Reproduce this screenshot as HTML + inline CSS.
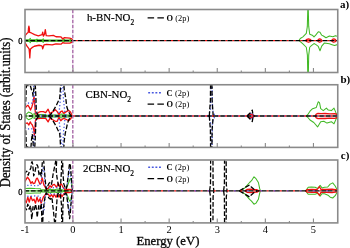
<!DOCTYPE html>
<html><head><meta charset="utf-8"><style>
html,body{margin:0;padding:0;background:#fff;}
body{width:350px;height:248px;overflow:hidden;}
svg{display:block;will-change:transform;}
.s{font-family:"Liberation Serif",serif;fill:#000;}
.b{font-weight:bold;}
.t{stroke:#111;stroke-width:0.3px;}
</style></head><body>
<svg width="350" height="248" viewBox="0 0 350 248">
<rect width="350" height="248" fill="#fff"/>
<clipPath id="clipa"><rect x="25.0" y="9.5" width="312.75" height="63.0"/></clipPath>
<clipPath id="clipb"><rect x="25.0" y="84.75" width="312.75" height="62.650000000000006"/></clipPath>
<clipPath id="clipc"><rect x="25.0" y="160.0" width="312.75" height="62.900000000000006"/></clipPath>
<g clip-path="url(#clipa)"><g transform="translate(0,0.15)"><polyline points="24.00,40.40 25.50,39.60 29.50,39.40 30.20,38.20 30.90,39.50 36.30,39.60 37.00,39.00 37.70,39.60 42.50,39.60 43.20,38.60 43.90,39.60 48.00,39.80 63.50,39.80 64.20,39.00 64.90,39.80 69.70,39.80 70.50,39.00 71.40,40.00 72.50,40.40" fill="none" stroke="#42b926" stroke-width="1.05" stroke-linejoin="round" /><polyline points="299.00,40.40 300.30,38.40 302.90,36.70 306.30,33.30 307.30,26.50 308.05,0.00 308.70,26.00 309.70,34.10 312.30,35.00 314.00,36.70 315.70,35.00 318.30,31.60 320.00,32.00 321.70,35.00 323.40,35.90 326.00,37.60 329.40,35.90 332.90,36.50 335.40,35.50 338.75,36.50" fill="none" stroke="#42b926" stroke-width="1.05" stroke-linejoin="round" /><polyline points="24.00,40.40 25.50,41.20 29.50,41.40 30.20,42.60 30.90,41.30 36.30,41.20 37.00,41.80 37.70,41.20 42.50,41.20 43.20,42.20 43.90,41.20 48.00,41.00 63.50,41.00 64.20,41.80 64.90,41.00 69.70,41.00 70.50,41.80 71.40,40.80 72.50,40.40" fill="none" stroke="#42b926" stroke-width="1.05" stroke-linejoin="round" /><polyline points="299.00,40.40 300.30,41.50 302.90,43.70 306.30,47.10 307.40,55.00 308.05,90.00 308.70,55.00 309.70,47.10 311.40,45.40 314.00,43.40 316.00,44.50 318.30,46.30 320.00,50.60 321.70,46.00 324.30,42.90 329.40,43.70 332.00,44.50 334.60,45.40 338.75,44.00" fill="none" stroke="#42b926" stroke-width="1.05" stroke-linejoin="round" /><polyline points="24.00,40.40 73.50,40.40" fill="none" stroke="#42b926" stroke-width="1.1" stroke-linejoin="round" /><polyline points="24.00,37.00 24.80,36.50 25.50,35.00 27.00,33.20 28.20,32.30 28.50,28.00 28.90,26.00 29.30,28.00 29.60,32.20 31.40,32.80 34.60,34.50 38.30,35.70 42.10,34.50 42.70,32.00 43.40,36.00 44.50,34.00 45.30,29.40 46.20,35.50 49.00,35.70 53.40,35.30 56.00,36.60 61.00,36.80 62.90,38.90 64.20,37.50 69.70,37.90 71.80,38.60 72.80,40.40" fill="none" stroke="#f01010" stroke-width="1.3" stroke-linejoin="round" /><polyline points="305.50,40.40 307.00,39.20 308.50,38.70 310.00,39.20 311.30,40.40" fill="none" stroke="#f01010" stroke-width="1.3" stroke-linejoin="round" /><polyline points="317.50,40.40 318.50,39.20 319.70,38.70 321.00,39.20 322.00,40.40" fill="none" stroke="#f01010" stroke-width="1.3" stroke-linejoin="round" /><polyline points="331.50,40.40 332.50,39.20 333.80,38.70 335.20,39.20 336.20,40.40" fill="none" stroke="#f01010" stroke-width="1.3" stroke-linejoin="round" /><polyline points="24.00,42.00 24.80,42.30 27.00,46.00 29.10,48.80 29.50,53.00 29.80,57.70 30.10,53.00 30.50,48.80 32.00,47.50 34.30,46.10 39.10,45.10 40.90,45.40 42.10,46.00 42.70,48.60 44.00,44.80 46.50,44.20 52.20,44.80 56.00,43.70 61.00,44.00 62.90,42.30 64.20,43.00 69.70,43.00 71.80,42.20 72.80,40.40" fill="none" stroke="#f01010" stroke-width="1.3" stroke-linejoin="round" /><polyline points="305.50,40.40 307.00,41.60 308.50,42.10 310.00,41.60 311.30,40.40" fill="none" stroke="#f01010" stroke-width="1.3" stroke-linejoin="round" /><polyline points="317.50,40.40 318.50,41.60 319.70,42.10 321.00,41.60 322.00,40.40" fill="none" stroke="#f01010" stroke-width="1.3" stroke-linejoin="round" /><polyline points="331.50,40.40 332.50,41.60 333.80,42.10 335.20,41.60 336.20,40.40" fill="none" stroke="#f01010" stroke-width="1.3" stroke-linejoin="round" /><polyline points="72.30,40.40 338.75,40.40" fill="none" stroke="#f01010" stroke-width="1.3" stroke-linejoin="round" stroke-dasharray="2.00 4.80" stroke-dashoffset="3.25"/><polyline points="24.00,40.40 338.75,40.40" fill="none" stroke="#000" stroke-width="1.3" stroke-linejoin="round" stroke-dasharray="4.80 2.00" stroke-dashoffset="0.55"/></g></g>
<g clip-path="url(#clipb)"><g transform="translate(0,0.1)"><polyline points="24.00,115.90 25.80,114.50 28.50,112.00 31.40,113.20 32.50,114.50 34.30,113.50 35.80,115.90" fill="none" stroke="#42b926" stroke-width="1.05" stroke-linejoin="round" /><polyline points="35.80,115.90 38.00,114.60 39.60,114.30 45.70,114.50 47.50,115.90" fill="none" stroke="#42b926" stroke-width="1.05" stroke-linejoin="round" /><polyline points="47.50,115.90 50.00,115.00 60.00,115.00 61.50,114.00 64.00,114.20 65.50,115.00 70.00,115.00 72.50,115.90" fill="none" stroke="#42b926" stroke-width="1.05" stroke-linejoin="round" /><polyline points="306.00,115.90 307.50,114.90 310.00,111.10 312.60,108.60 316.30,107.30 318.20,101.70 319.50,102.50 320.70,108.60 323.30,110.50 326.40,108.00 328.30,110.00 331.40,110.50 334.00,108.00 335.80,112.30 337.00,114.90 338.75,115.90" fill="none" stroke="#42b926" stroke-width="1.05" stroke-linejoin="round" /><polyline points="24.00,115.90 25.80,117.30 28.50,119.60 31.40,118.50 32.50,117.30 34.30,118.30 35.80,115.90" fill="none" stroke="#42b926" stroke-width="1.05" stroke-linejoin="round" /><polyline points="35.80,115.90 38.00,117.20 39.60,117.50 45.70,117.30 47.50,115.90" fill="none" stroke="#42b926" stroke-width="1.05" stroke-linejoin="round" /><polyline points="47.50,115.90 50.00,116.80 60.00,116.80 61.50,117.80 64.00,117.60 65.50,116.80 70.00,116.80 72.50,115.90" fill="none" stroke="#42b926" stroke-width="1.05" stroke-linejoin="round" /><polyline points="306.00,115.90 307.50,116.90 310.00,119.90 313.80,122.40 317.60,126.80 320.70,121.60 323.80,121.20 327.00,123.00 331.40,121.60 334.00,123.70 336.50,118.00 338.75,115.90" fill="none" stroke="#42b926" stroke-width="1.05" stroke-linejoin="round" /><polyline points="24.00,115.90 73.50,115.90" fill="none" stroke="#42b926" stroke-width="1.1" stroke-linejoin="round" /><polyline points="24.00,108.50 24.80,108.30 25.50,107.60 26.50,106.20 28.00,105.20 29.50,107.60 30.50,110.00 31.80,106.90 33.00,102.80 33.60,99.00 34.00,96.50 34.40,99.00 35.00,108.30 35.40,113.00 36.00,114.10 37.50,113.50 39.00,112.00 40.80,111.50 43.30,111.50 45.70,112.50 48.10,109.10 49.90,113.30 52.30,112.10 55.40,109.70 57.20,111.50 59.00,114.50 60.80,111.50 62.00,110.90 63.80,113.30 66.30,111.50 68.70,110.30 70.50,111.80 72.30,115.90" fill="none" stroke="#f01010" stroke-width="1.3" stroke-linejoin="round" /><polyline points="247.00,115.90 249.00,114.50 251.00,114.00 253.00,114.80 255.00,115.90" fill="none" stroke="#f01010" stroke-width="1.3" stroke-linejoin="round" /><polyline points="315.00,115.90 316.30,114.00 318.00,113.30 321.00,113.60 325.00,113.40 330.00,113.80 335.00,113.50 337.00,114.50 338.75,115.90" fill="none" stroke="#f01010" stroke-width="1.3" stroke-linejoin="round" /><polyline points="24.00,122.80 24.70,122.80 26.00,123.40 27.30,122.80 28.90,124.90 30.20,121.80 31.20,123.50 32.30,124.90 33.30,127.60 34.00,131.00 34.30,136.00 34.80,130.00 35.40,121.00 36.00,118.40 38.00,118.40 40.80,118.20 45.70,118.20 48.10,121.80 49.90,118.20 52.30,119.40 55.40,121.20 57.20,121.20 59.00,117.20 60.80,120.60 62.00,119.40 63.80,118.20 66.30,119.40 68.70,120.60 70.50,119.00 72.30,115.90" fill="none" stroke="#f01010" stroke-width="1.3" stroke-linejoin="round" /><polyline points="247.00,115.90 249.00,117.30 251.00,117.80 253.00,117.00 255.00,115.90" fill="none" stroke="#f01010" stroke-width="1.3" stroke-linejoin="round" /><polyline points="315.00,115.90 316.30,117.80 318.00,118.50 321.00,118.20 325.00,118.40 330.00,118.00 335.00,118.30 337.00,117.30 338.75,115.90" fill="none" stroke="#f01010" stroke-width="1.3" stroke-linejoin="round" /><polyline points="24.00,107.00 24.60,107.00 25.70,103.30 28.00,102.80 30.00,103.50 31.90,103.00 32.80,100.00 33.40,94.00 33.80,86.00 34.40,94.00 35.00,103.00 35.60,112.00 37.00,114.80 40.00,115.20 44.00,114.60 50.00,115.00 55.00,115.00 57.50,115.90" fill="none" stroke="#4858e0" stroke-width="1.3" stroke-linejoin="round" stroke-dasharray="1.2 2.2" /><polyline points="57.50,115.90 59.00,113.30 60.30,100.00 61.50,88.00 61.90,80.00 62.70,80.00 63.00,88.00 63.50,100.00 65.00,113.00 66.50,115.90" fill="none" stroke="#4858e0" stroke-width="1.3" stroke-linejoin="round" stroke-dasharray="1.2 2.2" /><polyline points="208.00,115.90 210.50,110.00 211.00,80.00 212.00,80.00 212.50,110.00 215.00,115.90" fill="none" stroke="#4858e0" stroke-width="1.3" stroke-linejoin="round" stroke-dasharray="1.2 2.2" /><polyline points="248.00,115.90 250.00,113.50 252.00,113.00 254.00,115.90" fill="none" stroke="#4858e0" stroke-width="1.3" stroke-linejoin="round" stroke-dasharray="1.2 2.2" /><polyline points="24.00,124.80 24.60,124.80 25.70,128.50 28.00,129.00 30.00,128.30 31.90,128.80 32.80,131.80 33.40,137.80 33.80,145.80 34.40,137.80 35.00,128.80 35.60,119.80 37.00,117.00 40.00,116.60 44.00,117.20 50.00,116.80 55.00,116.80 57.50,115.90" fill="none" stroke="#4858e0" stroke-width="1.3" stroke-linejoin="round" stroke-dasharray="1.2 2.2" /><polyline points="57.50,115.90 59.00,118.50 60.30,131.80 61.50,143.80 61.90,151.80 62.70,151.80 63.00,143.80 63.50,131.80 65.00,118.80 66.50,115.90" fill="none" stroke="#4858e0" stroke-width="1.3" stroke-linejoin="round" stroke-dasharray="1.2 2.2" /><polyline points="208.00,115.90 210.50,121.80 211.00,151.80 212.00,151.80 212.50,121.80 215.00,115.90" fill="none" stroke="#4858e0" stroke-width="1.3" stroke-linejoin="round" stroke-dasharray="1.2 2.2" /><polyline points="248.00,115.90 250.00,118.30 252.00,118.80 254.00,115.90" fill="none" stroke="#4858e0" stroke-width="1.3" stroke-linejoin="round" stroke-dasharray="1.2 2.2" /><polyline points="24.00,108.00 24.80,107.50 25.50,104.00 25.90,98.00 26.20,90.00 26.40,85.45 30.30,85.45 31.40,89.40 32.50,92.00 33.00,95.50 33.50,92.00 34.20,85.45 35.30,85.45 35.60,90.00 36.00,100.00 36.30,110.00 37.50,114.50 39.00,115.90" fill="none" stroke="#000" stroke-width="1.3" stroke-linejoin="round" stroke-dasharray="4.8 2" /><polyline points="48.50,115.90 51.00,114.00 53.00,111.00 54.50,108.50 56.50,105.00 57.80,102.10 59.70,98.30 60.20,92.00 60.50,86.00 60.60,70.00 63.60,70.00 63.80,84.00 64.30,90.00 65.20,95.00 66.00,100.00 66.30,103.00 67.00,107.50 68.50,111.50 71.00,115.90" fill="none" stroke="#000" stroke-width="1.3" stroke-linejoin="round" stroke-dasharray="4.8 2" /><polyline points="209.30,115.90 210.40,100.00 210.70,70.00 211.80,70.00 212.10,100.00 213.20,115.90" fill="none" stroke="#000" stroke-width="1.3" stroke-linejoin="round" stroke-dasharray="4.8 2" /><polyline points="247.00,115.90 250.30,112.60 252.30,110.00 252.70,113.00 253.30,115.90" fill="none" stroke="#000" stroke-width="1.3" stroke-linejoin="round" stroke-dasharray="4.8 2" /><polyline points="24.00,124.00 24.80,124.30 25.50,128.00 25.90,134.00 26.20,142.00 26.40,146.70 31.00,146.70 31.50,140.00 32.20,134.00 32.90,140.00 33.30,146.70 34.80,146.70 35.20,140.00 35.60,130.00 35.90,121.00 37.50,117.30 39.00,115.90" fill="none" stroke="#000" stroke-width="1.3" stroke-linejoin="round" stroke-dasharray="4.8 2" /><polyline points="48.50,115.90 51.00,117.80 53.00,120.80 54.50,123.30 56.50,126.80 57.80,129.70 59.70,133.50 60.20,140.00 60.50,146.00 60.70,160.00 63.60,160.00 63.80,147.00 64.30,140.00 65.30,133.00 66.30,129.00 67.20,124.50 68.50,120.30 71.00,115.90" fill="none" stroke="#000" stroke-width="1.3" stroke-linejoin="round" stroke-dasharray="4.8 2" /><polyline points="209.30,115.90 210.40,130.00 210.70,160.00 211.80,160.00 212.10,130.00 213.20,115.90" fill="none" stroke="#000" stroke-width="1.3" stroke-linejoin="round" stroke-dasharray="4.8 2" /><polyline points="247.00,115.90 250.30,119.20 252.30,121.40 252.70,118.80 253.30,115.90" fill="none" stroke="#000" stroke-width="1.3" stroke-linejoin="round" stroke-dasharray="4.8 2" /><polyline points="72.30,115.90 338.75,115.90" fill="none" stroke="#f01010" stroke-width="1.3" stroke-linejoin="round" stroke-dasharray="2.30 4.30" stroke-dashoffset="6.10"/><polyline points="66.00,115.90 338.75,115.90" fill="none" stroke="#4858e0" stroke-width="1.3" stroke-linejoin="round" stroke-dasharray="1.00 5.60" stroke-dashoffset="0.20"/><polyline points="24.00,115.90 338.75,115.90" fill="none" stroke="#000" stroke-width="1.3" stroke-linejoin="round" stroke-dasharray="4.30 2.30" stroke-dashoffset="1.70"/></g></g>
<g clip-path="url(#clipc)"><g transform="translate(0,-0.3)"><polyline points="24.00,189.50 24.70,188.90 30.00,188.60 35.00,188.90 40.50,189.00 41.50,191.00 42.60,190.00 44.60,190.00 46.50,190.20 50.00,189.50 54.00,190.00 58.00,189.40 62.00,190.00 65.50,191.20" fill="none" stroke="#42b926" stroke-width="1.05" stroke-linejoin="round" /><polyline points="65.50,191.20 67.50,186.00 69.00,182.00 70.30,178.70 71.00,179.50 71.80,185.00 72.60,191.20" fill="none" stroke="#42b926" stroke-width="1.05" stroke-linejoin="round" /><polyline points="239.50,191.20 244.60,188.50 249.60,182.80 251.50,181.00 254.00,177.10 256.00,179.00 258.40,182.80 259.70,189.00 260.50,191.20" fill="none" stroke="#42b926" stroke-width="1.05" stroke-linejoin="round" /><polyline points="305.70,191.20 308.20,187.60 311.30,187.30 315.10,187.60 317.60,188.80 320.10,185.70 322.00,188.20 324.50,187.60 327.70,187.30 330.20,184.40 332.70,183.20 335.20,186.30 337.10,190.00 338.75,191.20" fill="none" stroke="#42b926" stroke-width="1.05" stroke-linejoin="round" /><polyline points="24.00,192.80 24.70,193.30 30.00,193.60 35.00,193.20 40.50,193.20 41.50,191.50 42.60,192.40 44.60,192.40 46.50,192.20 50.00,193.00 54.00,192.40 58.00,193.00 62.00,192.40 65.50,191.20" fill="none" stroke="#42b926" stroke-width="1.05" stroke-linejoin="round" /><polyline points="65.50,191.20 67.50,196.00 69.00,200.00 69.80,201.50 70.80,200.00 71.80,196.00 72.60,191.20" fill="none" stroke="#42b926" stroke-width="1.05" stroke-linejoin="round" /><polyline points="239.50,191.20 244.60,193.90 249.60,199.60 251.50,201.40 254.00,204.50 256.00,203.40 258.40,199.60 259.70,193.40 260.50,191.20" fill="none" stroke="#42b926" stroke-width="1.05" stroke-linejoin="round" /><polyline points="305.70,191.20 308.20,194.50 315.10,194.50 317.60,193.60 320.10,196.40 322.00,194.00 324.50,194.00 328.00,195.50 330.20,197.50 332.70,198.30 335.20,196.00 337.10,192.50 338.75,191.20" fill="none" stroke="#42b926" stroke-width="1.05" stroke-linejoin="round" /><polyline points="24.00,191.20 73.50,191.20" fill="none" stroke="#42b926" stroke-width="1.1" stroke-linejoin="round" /><polyline points="24.00,182.00 24.70,182.30 26.00,180.00 27.50,177.50 29.50,180.30 30.90,183.70 32.30,182.00 33.30,184.00 34.70,183.50 36.40,179.00 37.40,178.50 38.80,181.70 39.80,184.40 41.20,183.50 42.00,178.00 42.60,179.60 43.30,183.00 44.00,185.50 45.50,188.00 46.50,189.50 48.20,188.70 50.00,186.00 51.50,187.50 52.50,185.50 54.40,184.60 56.50,187.70 58.20,183.50 59.90,187.00 60.70,184.20 61.60,184.50 63.00,187.50 64.50,189.50 65.50,191.00 66.20,189.80 69.00,189.60 71.70,189.90 72.50,191.20" fill="none" stroke="#f01010" stroke-width="1.3" stroke-linejoin="round" /><polyline points="245.00,191.20 247.00,189.80 250.00,189.50 253.00,189.80 257.00,190.00 259.00,191.20" fill="none" stroke="#f01010" stroke-width="1.3" stroke-linejoin="round" /><polyline points="305.50,191.20 307.00,190.00 312.00,189.70 317.00,190.00 319.50,187.00 321.00,189.80 326.00,189.80 332.00,189.40 337.00,190.20 338.75,191.20" fill="none" stroke="#f01010" stroke-width="1.3" stroke-linejoin="round" /><polyline points="24.00,200.00 24.70,200.50 26.30,203.00 27.80,197.50 29.30,202.50 30.80,196.70 32.50,201.00 34.00,199.50 35.50,203.50 37.00,197.50 38.50,202.00 40.00,199.00 41.00,203.50 42.00,201.00 43.50,197.00 44.50,196.00 46.00,194.00 48.20,194.50 50.00,197.00 51.50,195.00 53.00,197.50 54.40,194.50 56.00,197.50 57.50,194.20 59.00,197.40 60.70,194.30 62.00,197.00 63.50,194.60 65.00,193.00 66.20,192.60 69.00,192.80 71.70,192.50 72.50,191.20" fill="none" stroke="#f01010" stroke-width="1.3" stroke-linejoin="round" /><polyline points="245.00,191.20 247.00,192.60 250.00,192.90 253.00,192.60 257.00,192.40 259.00,191.20" fill="none" stroke="#f01010" stroke-width="1.3" stroke-linejoin="round" /><polyline points="305.50,191.20 307.00,192.40 312.00,192.70 317.00,192.40 319.50,195.50 321.00,192.60 326.00,192.60 332.00,193.00 337.00,192.20 338.75,191.20" fill="none" stroke="#f01010" stroke-width="1.3" stroke-linejoin="round" /><polyline points="24.00,186.50 25.00,186.00 30.00,185.50 35.00,186.00 40.00,185.60 41.50,180.00 42.40,172.00 43.20,168.00 44.10,172.00 45.00,184.00 46.00,188.00 50.00,188.50 55.00,187.80 60.00,188.60 64.00,188.50 67.00,186.00 68.50,176.00 69.50,170.00 70.50,174.00 71.50,186.00 72.50,191.20" fill="none" stroke="#4858e0" stroke-width="1.3" stroke-linejoin="round" stroke-dasharray="1.2 2.2" /><polyline points="24.00,196.00 25.00,196.30 30.00,196.80 35.00,196.20 40.00,196.60 41.50,202.00 42.40,210.00 43.20,214.00 44.10,210.00 45.00,198.00 46.00,194.40 50.00,194.00 55.00,194.60 60.00,193.80 64.00,194.00 67.00,196.40 68.50,206.00 69.50,212.00 70.50,208.00 71.50,196.40 72.50,191.20" fill="none" stroke="#4858e0" stroke-width="1.3" stroke-linejoin="round" stroke-dasharray="1.2 2.2" /><polyline points="24.00,174.00 24.00,174.00 24.80,173.50 26.80,171.40 28.20,175.50 29.50,171.40 30.90,168.00 31.50,163.00 32.00,162.00 32.60,164.00 33.20,170.00 33.70,176.20 35.00,172.00 36.20,166.00 37.00,165.00 37.80,166.50 38.60,172.00 39.10,175.50 40.20,173.00 41.30,176.50 41.80,170.00 42.50,160.00 42.80,150.00 43.30,150.00 43.60,160.00 44.40,170.00 45.20,180.00 46.20,189.70 47.50,187.00 49.00,183.50 50.50,182.50 51.50,184.50 52.30,180.00 53.00,175.00 55.60,162.00 56.30,150.00 56.90,150.00 56.60,162.00 56.20,170.00 57.00,178.00 58.50,186.00 60.00,189.50 60.80,182.00 61.50,170.00 61.90,150.00 62.50,150.00 62.80,170.00 63.30,178.00 63.80,184.20 64.80,187.00 66.00,189.50 67.00,186.00 68.20,176.00 69.20,166.00 69.80,163.60 70.40,166.00 70.90,172.00 71.50,180.00 72.10,187.00 72.70,191.20" fill="none" stroke="#000" stroke-width="1.3" stroke-linejoin="round" stroke-dasharray="4.8 2" /><polyline points="209.60,191.20 210.50,185.00 210.70,150.00 212.90,150.00 213.10,185.00 213.90,191.20" fill="none" stroke="#000" stroke-width="1.3" stroke-linejoin="round" stroke-dasharray="4.8 2" /><polyline points="223.60,191.20 224.40,185.00 224.60,150.00 226.10,150.00 226.30,185.00 227.10,191.20" fill="none" stroke="#000" stroke-width="1.3" stroke-linejoin="round" stroke-dasharray="4.8 2" /><polyline points="239.50,191.20 244.00,188.50 249.60,185.30 251.00,187.00 254.00,189.50 257.00,191.20" fill="none" stroke="#000" stroke-width="1.3" stroke-linejoin="round" stroke-dasharray="4.8 2" /><polyline points="24.00,207.00 24.80,207.50 26.50,210.00 27.80,204.50 29.20,209.50 30.50,206.00 31.20,212.00 31.70,219.50 32.40,214.00 33.00,207.00 34.30,210.00 35.60,204.50 36.50,210.00 37.20,217.70 38.00,211.00 38.80,206.00 40.00,209.50 41.20,204.00 41.60,212.00 42.10,230.00 42.60,230.00 43.00,214.00 43.80,206.00 44.60,200.00 45.30,196.00 46.20,193.00 47.50,195.50 49.00,198.50 50.50,199.50 51.50,197.50 52.20,200.00 52.80,206.00 53.50,212.00 54.30,220.00 54.80,225.00 55.30,225.00 55.80,216.00 56.30,210.00 57.00,200.00 58.00,194.00 59.00,193.00 60.50,196.00 61.40,204.00 61.90,225.00 62.50,225.00 63.00,204.00 63.80,197.00 65.00,194.00 66.00,193.50 67.00,198.00 68.00,206.00 69.00,214.00 69.60,219.00 70.20,215.00 70.80,206.00 71.80,196.00 72.70,191.20" fill="none" stroke="#000" stroke-width="1.3" stroke-linejoin="round" stroke-dasharray="4.8 2" /><polyline points="209.60,191.20 210.50,197.00 210.70,232.00 212.90,232.00 213.10,197.00 213.90,191.20" fill="none" stroke="#000" stroke-width="1.3" stroke-linejoin="round" stroke-dasharray="4.8 2" /><polyline points="223.60,191.20 224.40,197.00 224.60,232.00 226.10,232.00 226.30,197.00 227.10,191.20" fill="none" stroke="#000" stroke-width="1.3" stroke-linejoin="round" stroke-dasharray="4.8 2" /><polyline points="239.50,191.20 244.00,193.90 249.60,197.30 251.00,195.50 254.00,192.90 257.00,191.20" fill="none" stroke="#000" stroke-width="1.3" stroke-linejoin="round" stroke-dasharray="4.8 2" /><polyline points="72.30,191.20 338.75,191.20" fill="none" stroke="#f01010" stroke-width="1.3" stroke-linejoin="round" stroke-dasharray="2.00 4.60" stroke-dashoffset="3.70"/><polyline points="66.00,191.20 338.75,191.20" fill="none" stroke="#4858e0" stroke-width="1.3" stroke-linejoin="round" stroke-dasharray="1.80 11.40" stroke-dashoffset="3.60"/><polyline points="24.00,191.20 338.75,191.20" fill="none" stroke="#000" stroke-width="1.3" stroke-linejoin="round" stroke-dasharray="4.60 2.00" stroke-dashoffset="6.20"/></g></g>
<line x1="72.8" y1="9.5" x2="72.8" y2="72.5" stroke="#a96aa9" stroke-width="1.4" stroke-dasharray="3.5 1.5" stroke-dashoffset="-0.3"/>
<line x1="48.90" y1="72.5" x2="48.90" y2="70.5" stroke="#8a8a8a" stroke-width="1.1"/>
<line x1="72.95" y1="72.5" x2="72.95" y2="68.1" stroke="#8a8a8a" stroke-width="1.1"/>
<line x1="97.00" y1="72.5" x2="97.00" y2="70.5" stroke="#8a8a8a" stroke-width="1.1"/>
<line x1="121.05" y1="72.5" x2="121.05" y2="68.1" stroke="#8a8a8a" stroke-width="1.1"/>
<line x1="145.10" y1="72.5" x2="145.10" y2="70.5" stroke="#8a8a8a" stroke-width="1.1"/>
<line x1="169.15" y1="72.5" x2="169.15" y2="68.1" stroke="#8a8a8a" stroke-width="1.1"/>
<line x1="193.20" y1="72.5" x2="193.20" y2="70.5" stroke="#8a8a8a" stroke-width="1.1"/>
<line x1="217.25" y1="72.5" x2="217.25" y2="68.1" stroke="#8a8a8a" stroke-width="1.1"/>
<line x1="241.30" y1="72.5" x2="241.30" y2="70.5" stroke="#8a8a8a" stroke-width="1.1"/>
<line x1="265.35" y1="72.5" x2="265.35" y2="68.1" stroke="#8a8a8a" stroke-width="1.1"/>
<line x1="289.40" y1="72.5" x2="289.40" y2="70.5" stroke="#8a8a8a" stroke-width="1.1"/>
<line x1="313.45" y1="72.5" x2="313.45" y2="68.1" stroke="#8a8a8a" stroke-width="1.1"/>
<rect x="25.0" y="9.5" width="312.75" height="63.0" fill="none" stroke="#8a8a8a" stroke-width="1.6"/>
<text x="22.5" y="44.4" text-anchor="end" font-size="8.4" class="s" stroke="#000" stroke-width="0.3">0</text>
<line x1="72.8" y1="84.75" x2="72.8" y2="147.4" stroke="#a96aa9" stroke-width="1.4" stroke-dasharray="3.5 1.5" stroke-dashoffset="-0.3"/>
<line x1="48.90" y1="147.4" x2="48.90" y2="145.4" stroke="#8a8a8a" stroke-width="1.1"/>
<line x1="72.95" y1="147.4" x2="72.95" y2="143.0" stroke="#8a8a8a" stroke-width="1.1"/>
<line x1="97.00" y1="147.4" x2="97.00" y2="145.4" stroke="#8a8a8a" stroke-width="1.1"/>
<line x1="121.05" y1="147.4" x2="121.05" y2="143.0" stroke="#8a8a8a" stroke-width="1.1"/>
<line x1="145.10" y1="147.4" x2="145.10" y2="145.4" stroke="#8a8a8a" stroke-width="1.1"/>
<line x1="169.15" y1="147.4" x2="169.15" y2="143.0" stroke="#8a8a8a" stroke-width="1.1"/>
<line x1="193.20" y1="147.4" x2="193.20" y2="145.4" stroke="#8a8a8a" stroke-width="1.1"/>
<line x1="217.25" y1="147.4" x2="217.25" y2="143.0" stroke="#8a8a8a" stroke-width="1.1"/>
<line x1="241.30" y1="147.4" x2="241.30" y2="145.4" stroke="#8a8a8a" stroke-width="1.1"/>
<line x1="265.35" y1="147.4" x2="265.35" y2="143.0" stroke="#8a8a8a" stroke-width="1.1"/>
<line x1="289.40" y1="147.4" x2="289.40" y2="145.4" stroke="#8a8a8a" stroke-width="1.1"/>
<line x1="313.45" y1="147.4" x2="313.45" y2="143.0" stroke="#8a8a8a" stroke-width="1.1"/>
<rect x="25.0" y="84.75" width="312.75" height="62.650000000000006" fill="none" stroke="#8a8a8a" stroke-width="1.6"/>
<text x="22.5" y="119.9" text-anchor="end" font-size="8.4" class="s" stroke="#000" stroke-width="0.3">0</text>
<line x1="72.8" y1="160.0" x2="72.8" y2="222.9" stroke="#a96aa9" stroke-width="1.4" stroke-dasharray="3.5 1.5" stroke-dashoffset="-0.3"/>
<line x1="48.90" y1="222.9" x2="48.90" y2="220.9" stroke="#8a8a8a" stroke-width="1.1"/>
<line x1="72.95" y1="222.9" x2="72.95" y2="218.5" stroke="#8a8a8a" stroke-width="1.1"/>
<line x1="97.00" y1="222.9" x2="97.00" y2="220.9" stroke="#8a8a8a" stroke-width="1.1"/>
<line x1="121.05" y1="222.9" x2="121.05" y2="218.5" stroke="#8a8a8a" stroke-width="1.1"/>
<line x1="145.10" y1="222.9" x2="145.10" y2="220.9" stroke="#8a8a8a" stroke-width="1.1"/>
<line x1="169.15" y1="222.9" x2="169.15" y2="218.5" stroke="#8a8a8a" stroke-width="1.1"/>
<line x1="193.20" y1="222.9" x2="193.20" y2="220.9" stroke="#8a8a8a" stroke-width="1.1"/>
<line x1="217.25" y1="222.9" x2="217.25" y2="218.5" stroke="#8a8a8a" stroke-width="1.1"/>
<line x1="241.30" y1="222.9" x2="241.30" y2="220.9" stroke="#8a8a8a" stroke-width="1.1"/>
<line x1="265.35" y1="222.9" x2="265.35" y2="218.5" stroke="#8a8a8a" stroke-width="1.1"/>
<line x1="289.40" y1="222.9" x2="289.40" y2="220.9" stroke="#8a8a8a" stroke-width="1.1"/>
<line x1="313.45" y1="222.9" x2="313.45" y2="218.5" stroke="#8a8a8a" stroke-width="1.1"/>
<rect x="25.0" y="160.0" width="312.75" height="62.900000000000006" fill="none" stroke="#8a8a8a" stroke-width="1.6"/>
<text x="22.5" y="195.2" text-anchor="end" font-size="8.4" class="s" stroke="#000" stroke-width="0.3">0</text>
<text x="340" y="7.8" class="s b" font-size="11">a)</text>
<text x="340.4" y="82.7" class="s b" font-size="11">b)</text>
<text x="340.8" y="158.8" class="s b" font-size="11">c)</text>
<text x="86.9" y="21.4" class="s" font-size="10.9" stroke="#000" stroke-width="0.2">h-BN-NO<tspan font-size="7.4" dy="4.0">2</tspan></text>
<text x="85.6" y="98.3" class="s" font-size="10.9" stroke="#000" stroke-width="0.2">CBN-NO<tspan font-size="7.4" dy="4.0">2</tspan></text>
<text x="83.1" y="172.4" class="s" font-size="10.9" stroke="#000" stroke-width="0.2">2CBN-NO<tspan font-size="7.4" dy="4.0">2</tspan></text>
<line x1="147.6" y1="17.9" x2="164.2" y2="17.9" stroke="#000" stroke-width="1.3" stroke-dasharray="6.5 3.3"/>
<text x="166.6" y="20.8" class="s" font-size="8.4" textLength="22.6" lengthAdjust="spacing"><tspan font-weight="bold">O</tspan> (2p)</text>
<line x1="148.2" y1="92.8" x2="162.6" y2="92.8" stroke="#4858e0" stroke-width="1.4" stroke-dasharray="1.9 1.7"/>
<text x="166.6" y="95.6" class="s" font-size="8.4" textLength="22.6" lengthAdjust="spacing"><tspan font-weight="bold">C</tspan> (2p)</text>
<line x1="147.6" y1="104.2" x2="164.2" y2="104.2" stroke="#000" stroke-width="1.3" stroke-dasharray="6.5 3.3"/>
<text x="166.6" y="107.0" class="s" font-size="8.4" textLength="22.6" lengthAdjust="spacing"><tspan font-weight="bold">O</tspan> (2p)</text>
<line x1="148.2" y1="167.2" x2="162.6" y2="167.2" stroke="#4858e0" stroke-width="1.4" stroke-dasharray="1.9 1.7"/>
<text x="166.6" y="170.1" class="s" font-size="8.4" textLength="22.6" lengthAdjust="spacing"><tspan font-weight="bold">C</tspan> (2p)</text>
<line x1="147.6" y1="178.6" x2="164.2" y2="178.6" stroke="#000" stroke-width="1.3" stroke-dasharray="6.5 3.3"/>
<text x="166.6" y="181.5" class="s" font-size="8.4" textLength="22.6" lengthAdjust="spacing"><tspan font-weight="bold">O</tspan> (2p)</text>
<text x="25.15" y="233.2" text-anchor="middle" class="s" font-size="10.4">-1</text>
<text x="72.95" y="233.2" text-anchor="middle" class="s" font-size="10.4">0</text>
<text x="121.05" y="233.2" text-anchor="middle" class="s" font-size="10.4">1</text>
<text x="169.15" y="233.2" text-anchor="middle" class="s" font-size="10.4">2</text>
<text x="217.25" y="233.2" text-anchor="middle" class="s" font-size="10.4">3</text>
<text x="265.35" y="233.2" text-anchor="middle" class="s" font-size="10.4">4</text>
<text x="313.45" y="233.2" text-anchor="middle" class="s" font-size="10.4">5</text>
<text x="136.4" y="245" class="s t" font-size="13" textLength="63" lengthAdjust="spacingAndGlyphs">Energy (eV)</text>
<text transform="translate(9.8,187.3) rotate(-90)" class="s t" font-size="13.8" textLength="149.8" lengthAdjust="spacingAndGlyphs">Density of States (arbit.units)</text>
</svg>
</body></html>
